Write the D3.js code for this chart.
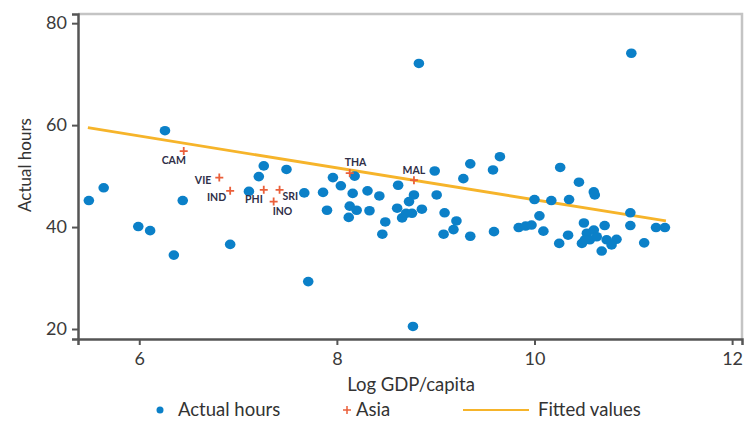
<!DOCTYPE html>
<html>
<head>
<meta charset="utf-8">
<script src="https://cdn.jsdelivr.net/npm/d3@7"></script>
<style>
  body { margin: 0; background: #fff; }
  text { font-family: Lato, "Open Sans", sans-serif; }
</style>
</head>
<body>
<div id="chart"></div>
<script>
// Actual hours vs log GDP per capita (all countries)
var gdpX = [
  5.49, 5.64, 5.99, 6.11, 6.26, 6.35, 6.44, 6.92, 7.11, 7.21,
  7.26, 7.49, 7.67, 7.71, 7.86, 7.90, 7.96, 8.04, 8.18, 8.16,
  8.13, 8.20, 8.12, 8.31, 8.33, 8.43, 8.49, 8.46, 8.62, 8.61,
  8.66, 8.70, 8.73, 8.78, 8.76, 8.86, 8.83, 8.77, 8.99, 9.01,
  9.09, 9.08, 9.21, 9.18, 9.28, 9.35, 9.35, 9.58, 9.65, 9.59,
  9.84, 9.91, 9.97, 10.00, 10.05, 10.09, 10.17, 10.25, 10.26, 10.34,
  10.35, 10.45, 10.50, 10.48, 10.53, 10.56, 10.60, 10.63, 10.51, 10.60,
  10.61, 10.71, 10.73, 10.83, 10.78, 10.68, 10.97, 10.97, 10.98, 11.11,
  11.23, 11.32
];
var hours = [
  45.2, 47.7, 40.1, 39.3, 58.9, 34.5, 45.2, 36.6, 47.0, 49.9,
  52.0, 51.3, 46.7, 29.3, 46.8, 43.3, 49.7, 48.1, 50.0, 46.6,
  44.1, 43.3, 41.9, 47.1, 43.2, 46.1, 41.0, 38.6, 48.2, 43.7,
  41.8, 42.7, 45.0, 46.3, 42.7, 43.5, 72.1, 20.5, 51.0, 46.3,
  42.8, 38.6, 41.2, 39.5, 49.5, 52.4, 38.2, 51.2, 53.8, 39.1,
  39.9, 40.2, 40.4, 45.4, 42.2, 39.2, 45.2, 36.8, 51.7, 38.4,
  45.4, 48.8, 40.8, 36.8, 38.8, 37.5, 39.4, 38.1, 37.5, 46.9,
  46.3, 40.3, 37.5, 37.6, 36.5, 35.3, 42.8, 40.3, 74.1, 36.9,
  39.9, 39.9
];

// Asian countries
var asiaCodes = ["CAM", "VIE", "IND", "PHI", "SRI", "INO", "THA", "MAL"];
var asiaX = [6.45, 6.81, 6.92, 7.26, 7.42, 7.36, 8.13, 8.78];
var asiaY = [54.9, 49.7, 47.1, 47.3, 47.3, 45.0, 50.6, 49.2];

// Fitted line end points
var fitX = [5.48, 11.33];
var fitY = [59.5, 41.2];

var xTicks = [6, 8, 10, 12];
var yTicks = [20, 40, 60, 80];

var width = 745, height = 425;
var blue = "#0b80c8", red = "#ea5f3a", gold = "#f6b42a";

var svg = d3.select("#chart").append("svg")
    .attr("width", width)
    .attr("height", height);

var x = d3.scaleLinear().domain([5.38, 12.1]).range([78, 742]);
var y = d3.scaleLinear().domain([18.04, 81.8]).range([339, 14]);

// plot frame (top/right lighter)
svg.append("path")
    .attr("d", "M" + x.range()[0] + "," + y.range()[1] + "H" + x.range()[1] + "V" + y.range()[0])
    .attr("fill", "none")
    .attr("stroke", "#c4c4c4")
    .attr("stroke-width", 2.5);

// axes
var xAxis = svg.append("g")
    .attr("transform", "translate(0," + y.range()[0] + ")")
    .call(d3.axisBottom(x).tickValues(xTicks).tickSize(6).tickPadding(7).tickFormat(d3.format("d")));
var yAxis = svg.append("g")
    .attr("transform", "translate(" + x.range()[0] + ",0)")
    .call(d3.axisLeft(y).tickValues(yTicks).tickSize(6).tickPadding(5).tickFormat(d3.format("d")));

[xAxis, yAxis].forEach(function (g) {
    g.select(".domain").attr("stroke", "#555").attr("stroke-width", 2.5);
    g.selectAll(".tick line").attr("stroke", "#555").attr("stroke-width", 2);
    g.selectAll(".tick text")
        .attr("fill", "#3a3a3a")
        .style("font-size", "18px");
});

// axis titles
svg.append("text")
    .attr("x", 411)
    .attr("y", 391)
    .attr("text-anchor", "middle")
    .attr("fill", "#333")
    .style("font-size", "18.5px")
    .text("Log GDP/capita");

svg.append("text")
    .attr("transform", "translate(31,165) rotate(-90)")
    .attr("text-anchor", "middle")
    .attr("fill", "#333")
    .style("font-size", "17px")
    .text("Actual hours");

// fitted line
svg.append("line")
    .attr("x1", x(fitX[0])).attr("y1", y(fitY[0]))
    .attr("x2", x(fitX[1])).attr("y2", y(fitY[1]))
    .attr("stroke", gold)
    .attr("stroke-width", 2.8);

// blue points
var pts = gdpX.map(function (d, i) { return [d, hours[i]]; });
svg.append("g").selectAll("ellipse")
    .data(pts)
    .enter().append("ellipse")
    .attr("cx", function (d) { return x(d[0]); })
    .attr("cy", function (d) { return y(d[1]); })
    .attr("rx", 5.3)
    .attr("ry", 4.8)
    .attr("fill", blue);

// Asia crosses + labels
var asia = asiaCodes.map(function (c, i) { return { code: c, x: asiaX[i], y: asiaY[i] }; });
var labelOffset = {
    CAM: [-10, 13, "middle"], VIE: [-8, 6, "end"], IND: [-4, 10, "end"],
    PHI: [-1, 13, "end"], SRI: [3, 10, "start"], INO: [-1, 13, "start"],
    THA: [-5, -7, "start"], MAL: [0, -6, "middle"]
};

var cross = svg.append("g").selectAll("g")
    .data(asia)
    .enter().append("g")
    .attr("transform", function (d) { return "translate(" + x(d.x) + "," + y(d.y) + ")"; });

cross.append("path")
    .attr("d", "M-4,0H4M0,-4V4")
    .attr("stroke", red)
    .attr("stroke-width", 1.8);

cross.append("text")
    .attr("x", function (d) { return labelOffset[d.code][0]; })
    .attr("y", function (d) { return labelOffset[d.code][1]; })
    .attr("text-anchor", function (d) { return labelOffset[d.code][2]; })
    .attr("fill", "#2f2f48")
    .style("font-size", "10.5px")
    .style("font-weight", "bold")
    .text(function (d) { return d.code; });

// legend
var legend = svg.append("g").attr("transform", "translate(0,410)");
legend.append("circle").attr("cx", 160).attr("cy", 0).attr("r", 3.5).attr("fill", blue);
legend.append("text").attr("x", 178).attr("y", 6).attr("fill", "#333").style("font-size", "18.5px").text("Actual hours");
legend.append("path").attr("d", "M343,0H351M347,-4V4").attr("stroke", red).attr("stroke-width", 1.5);
legend.append("text").attr("x", 356).attr("y", 6).attr("fill", "#333").style("font-size", "18.5px").text("Asia");
legend.append("line").attr("x1", 463).attr("x2", 529).attr("y1", 0).attr("y2", 0).attr("stroke", gold).attr("stroke-width", 2);
legend.append("text").attr("x", 538).attr("y", 6).attr("fill", "#333").style("font-size", "18.5px").text("Fitted values");
</script>
</body>
</html>
